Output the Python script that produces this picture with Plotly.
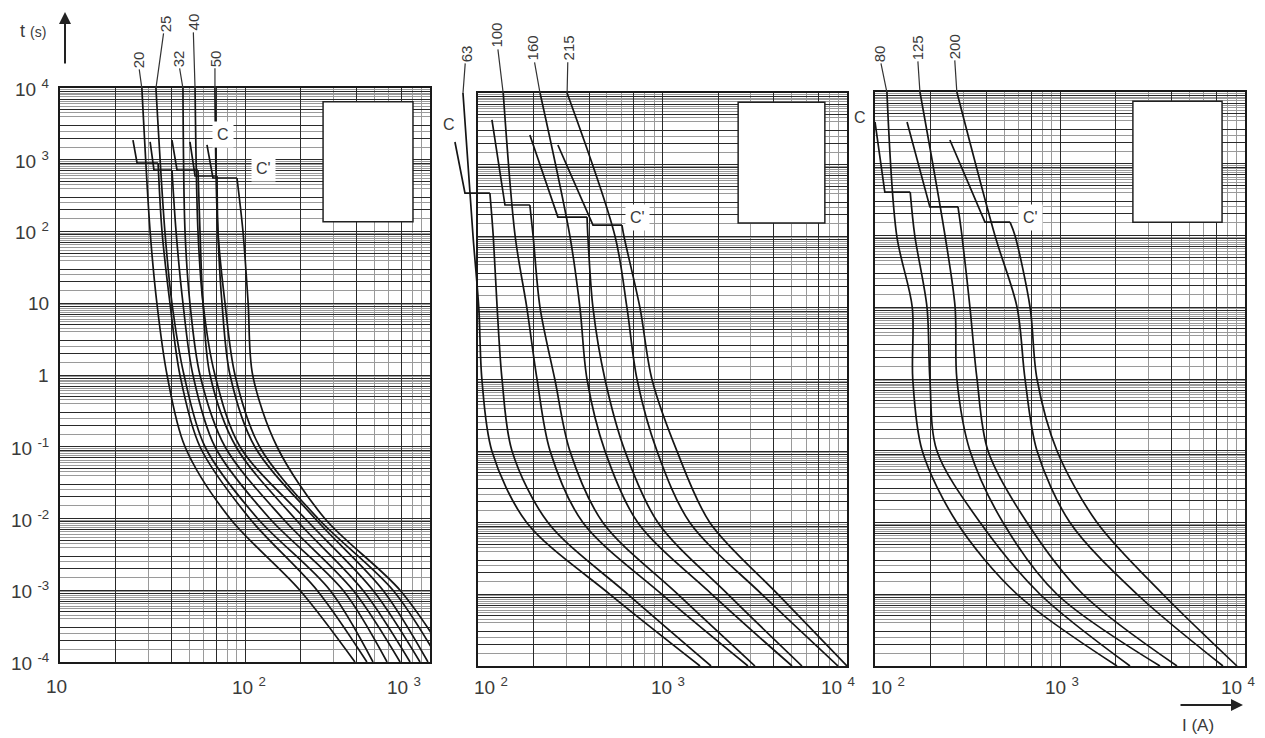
import math
import plotly.graph_objects as go

W, H = 1265, 738

# ---------------- data (current I in A, time t in s) ----------------
T_LEVELS = [100, 10, 1, 0.1, 0.01, 0.001, 0.0001]
T_TOP = 1e4

# Panel 1 : 20 .. 50 A
P1_RATINGS = ["20", "25", "32", "40", "50"]
P1_LEFT_TOP = [27.7, 33.0, 46.2, 53.7, 68.8]
P1_LEFT = [
    [30.7, 33.4, 37.9, 47.4, 83.0, 198, 393],
    [36.9, 40.3, 46.8, 60.8, 117, 288, 492],
    [47.4, 50.4, 57.1, 78.0, 160, 384, 689],
    [55.7, 59.3, 68.8, 94.0, 211, 492, 883],
    [71.4, 78.0, 88.3, 120, 248, 631, 1132],
]
P1_C_START_I = [24.8, 30.7, 40.3, 50.4, 62.3]
P1_C_START_T = [1880, 1770, 1880, 1770, 1610]
P1_C_END_I = [26.1, 32.2, 42.9, 53.7, 67.1]
P1_STEP_T = [900, 720, 720, 594, 557]
P1_STEP_END_I = [33.9, 40.3, 55.7, 70.6, 90.5]
P1_RIGHT = [
    [35.6, 39.3, 44.5, 57.1, 106, 245, 456],
    [42.4, 46.2, 52.3, 68.8, 136, 339, 586],
    [57.1, 59.3, 64.7, 89.4, 186, 434, 780],
    [71.4, 75.1, 83.0, 113, 239, 557, 975],
    [97.5, 104, 110, 149, 270, 689, 1283],
]

# Panel 2 : 63 .. 215 A
P2_RATINGS = ["63", "100", "160", "215"]
P2_LEFT_TOP = [82.9, 137, 217, 304]
P2_LEFT = [
    [94, 101, 105, 119, 184, 519, 1597],
    [159, 184, 209, 246, 371, 993, 2905],
    [315, 357, 390, 488, 736, 1853, 5035],
    [553, 642, 728, 934, 1409, 3460, 8940],
]
P2_C_START_I = [75.0, 119, 191, 271]
P2_C_START_T = [2070, 4200, 2590, 1880]
P2_C_END_I = [85.0, 140, 271, 420]
P2_STEP_T = [401, 273, 185, 143]
P2_STEP_END_I = [116, 191, 390, 603]
P2_RIGHT = [
    [121, 127, 135, 153, 240, 650, 1832],
    [199, 217, 261, 315, 476, 1213, 3170],
    [394, 420, 488, 626, 946, 2265, 5700],
    [618, 755, 877, 1198, 1808, 4227, 10000],
]

# Panel 3 : 80 .. 200 A
P3_RATINGS = ["80", "125", "200"]
P3_LEFT_TOP = [116, 175, 277]
P3_LEFT = [
    [131, 159, 160, 180, 277, 586, 2033],
    [239, 271, 277, 326, 492, 963, 3470],
    [445, 586, 647, 751, 1132, 2610, 7600],
]
P3_C_START_I = [100, 149, 254]
P3_C_START_T = [3820, 3820, 2140]
P3_C_END_I = [113, 198, 393]
P3_STEP_T = [403, 250, 154]
P3_STEP_END_I = [155, 281, 537]
P3_RIGHT = [
    [164, 191, 198, 216, 370, 780, 2390],
    [295, 326, 356, 408, 663, 1331, 4290],
    [571, 689, 751, 963, 1585, 3600, 9050],
]

# tick labels
Y_TICK_EXP = [-4, -3, -2, -1, 0, 1, 2, 3, 4]
Y_TICK_TEXT = ["10 <sup>-4</sup>", "10 <sup>-3</sup>", "10 <sup>-2</sup>", "10 <sup>-1</sup>",
               "1", "10", "10 <sup>2</sup>", "10 <sup>3</sup>", "10 <sup>4</sup>"]
X_TICK_TEXT = {1: "10", 2: "10 <sup>2</sup>", 3: "10 <sup>3</sup>", 4: "10 <sup>4</sup>"}

GRID_BLACK_X = [1, 2, 4, 7]
GRID_GREY_X = [3, 5, 6, 8, 9]
GRID_BLACK_Y = [1, 2, 3, 5, 7, 9]
GRID_GREY_Y = [1.5, 2.5, 4, 4.5, 5.5, 6, 6.5, 7.5, 8, 8.5, 9.5]

# ---------------- styling ----------------
FONT = "Liberation Sans, Arial, sans-serif"
TXT = "#3a3a3a"
CURVE = "#151515"
BLACK_GRID = "#2a2a2a"
GREY_GRID = "#9a9a9a"
LW = 1.7

# panel geometry (pixels of the 1265x738 page)
P1 = dict(l=60, r=430, t=88, b=662, lo=1, hi=3)
P2 = dict(l=478, r=847, t=93, b=666, lo=2, hi=4)
P3 = dict(l=875, r=1245, t=92, b=666, lo=2, hi=4)
P2_EXT_L = 450


def px_x(p):
    return p / W


def px_y(p):
    return 1 - p / H


def grid_vals(mults, lo, hi):
    out = []
    for e in range(lo, hi + 1):
        for m in mults:
            v = m * 10 ** e
            if 10 ** lo * 0.9999 <= v <= 10 ** hi * 1.0001:
                out.append(v)
    return out


def x_cfg(P, anchor):
    lo, hi = P["lo"], P["hi"]
    return dict(type="log", domain=[px_x(P["l"]), px_x(P["r"])], range=[lo, hi], anchor=anchor,
                tickmode="array", tickvals=grid_vals(GRID_BLACK_X, lo, hi), showticklabels=False,
                showgrid=True, gridcolor=BLACK_GRID, gridwidth=1,
                minor=dict(tickmode="array", tickvals=grid_vals(GRID_GREY_X, lo, hi),
                           showgrid=True, gridcolor=GREY_GRID, gridwidth=1, ticks=""),
                ticks="", showline=True, mirror=True, linecolor="#1a1a1a", linewidth=1.5,
                zeroline=False, fixedrange=True, automargin=False)


def y_cfg(P, anchor):
    return dict(type="log", domain=[px_y(P["b"]), px_y(P["t"])], range=[-4, 4], anchor=anchor,
                tickmode="array", tickvals=grid_vals(GRID_BLACK_Y, -4, 4), showticklabels=False,
                showgrid=True, gridcolor=BLACK_GRID, gridwidth=1,
                minor=dict(tickmode="array", tickvals=grid_vals(GRID_GREY_Y, -4, 4),
                           showgrid=True, gridcolor=GREY_GRID, gridwidth=1, ticks=""),
                ticks="", showline=True, mirror=True, linecolor="#1a1a1a", linewidth=1.5,
                zeroline=False, fixedrange=True, automargin=False)


fig = go.Figure()


def add_panel(xa, ya, ltop, left, cs_i, cs_t, ce_i, step_t, se_i, right):
    for k in range(len(ltop)):
        fig.add_trace(go.Scatter(
            x=[ltop[k]] + left[k], y=[T_TOP] + T_LEVELS, mode="lines",
            line=dict(color=CURVE, width=LW, shape="spline", smoothing=0.9),
            xaxis=xa, yaxis=ya, hoverinfo="skip", showlegend=False))
        fig.add_trace(go.Scatter(
            x=[cs_i[k], ce_i[k], se_i[k]], y=[cs_t[k], step_t[k], step_t[k]], mode="lines",
            line=dict(color=CURVE, width=LW),
            xaxis=xa, yaxis=ya, hoverinfo="skip", showlegend=False))
        fig.add_trace(go.Scatter(
            x=[se_i[k]] + right[k], y=[step_t[k]] + T_LEVELS, mode="lines",
            line=dict(color=CURVE, width=LW, shape="spline", smoothing=0.9),
            xaxis=xa, yaxis=ya, hoverinfo="skip", showlegend=False))


# invisible anchor trace so that subplot x2/y2 exists
fig.add_trace(go.Scatter(x=[100], y=[1], mode="markers", marker=dict(opacity=0),
                         xaxis="x2", yaxis="y2", hoverinfo="skip", showlegend=False))
add_panel("x", "y", P1_LEFT_TOP, P1_LEFT, P1_C_START_I, P1_C_START_T, P1_C_END_I,
          P1_STEP_T, P1_STEP_END_I, P1_RIGHT)
add_panel("x3", "y3", P3_LEFT_TOP, P3_LEFT, P3_C_START_I, P3_C_START_T, P3_C_END_I,
          P3_STEP_T, P3_STEP_END_I, P3_RIGHT)
add_panel("x4", "y4", P2_LEFT_TOP, P2_LEFT, P2_C_START_I, P2_C_START_T, P2_C_END_I,
          P2_STEP_T, P2_STEP_END_I, P2_RIGHT)

p2_dec = (P2["r"] - P2["l"]) / 2.0
fig.update_layout(
    template="none",
    width=W, height=H, margin=dict(l=0, r=0, t=0, b=0, pad=0), autosize=False,
    paper_bgcolor="white", plot_bgcolor="rgba(0,0,0,0)", showlegend=False,
    xaxis=x_cfg(P1, "y"), yaxis=y_cfg(P1, "x"),
    xaxis2=x_cfg(P2, "y2"), yaxis2=y_cfg(P2, "x2"),
    xaxis3=x_cfg(P3, "y3"), yaxis3=y_cfg(P3, "x3"),
    xaxis4=dict(type="log", domain=[px_x(P2_EXT_L), px_x(P2["r"])],
                range=[2 - (P2["l"] - P2_EXT_L) / p2_dec, 4], visible=False,
                anchor="y4", fixedrange=True, automargin=False),
    yaxis4=dict(type="log", domain=[px_y(P2["b"]), px_y(P2["t"])], range=[-4, 4],
                visible=False, anchor="x4", fixedrange=True, automargin=False),
)

# white boxes
shapes = []
for xr, yr, fx, fy in [("x", "y", (0.711, 0.954), (0.767, 0.976)),
                       ("x2", "y2", (0.705, 0.940), (0.773, 0.984)),
                       ("x3", "y3", (0.697, 0.938), (0.773, 0.984))]:
    shapes.append(dict(type="rect", xref=xr + " domain", yref=yr + " domain",
                       x0=fx[0], x1=fx[1], y0=fy[0], y1=fy[1],
                       fillcolor="white", line=dict(color="#222", width=1.5), layer="above"))
fig.update_layout(shapes=shapes)

ann = []
tick_font = dict(family=FONT, size=19, color=TXT)

# y tick labels (left of panel 1)
for e, txt in zip(Y_TICK_EXP, Y_TICK_TEXT):
    frac = (e + 4) / 8.0
    ypx = P1["b"] - frac * (P1["b"] - P1["t"])
    ann.append(dict(text=txt, x=px_x(51), y=px_y(ypx), xref="paper", yref="paper",
                    xanchor="right", yanchor="middle", showarrow=False, font=tick_font))

# x tick labels under each panel (labels at panel ends are pulled inwards)
for P, shifts in [(P1, {1: -3, 2: 4, 3: -26}), (P2, {2: 13, 3: 5, 4: -9}),
                  (P3, {2: 13, 3: 2, 4: -7})]:
    for e in range(P["lo"], P["hi"] + 1):
        frac = (e - P["lo"]) / float(P["hi"] - P["lo"])
        xpx = P["l"] + frac * (P["r"] - P["l"])
        ann.append(dict(text=X_TICK_TEXT[e], x=px_x(xpx), y=px_y(686), xref="paper", yref="paper",
                        xanchor="center", yanchor="middle", xshift=shifts[e],
                        showarrow=False, font=tick_font))

lab_font = dict(family=FONT, size=15, color=TXT)


def rating_labels(xref, yref, ratings, tops, offs):
    for r, v, (ax, ay) in zip(ratings, tops, offs):
        ann.append(dict(text=r, x=math.log10(v), y=3.995, xref=xref, yref=yref,
                        showarrow=True, arrowhead=0, arrowwidth=1.2, arrowcolor="#333",
                        ax=ax, ay=ay, textangle=-90, font=lab_font, standoff=0))


rating_labels("x", "y", P1_RATINGS, P1_LEFT_TOP, [(-4, -29), (9, -65), (-5, -30), (-2, -66), (0, -30)])
rating_labels("x4", "y4", P2_RATINGS, P2_LEFT_TOP, [(3, -40), (-7, -58), (-8, -45), (1, -45)])
rating_labels("x3", "y3", P3_RATINGS, P3_LEFT_TOP, [(-8, -39), (-3, -45), (-3, -46)])

cfont = dict(family=FONT, size=16, color=TXT)
for txt, px, py in [("C", 223, 134), ("C'", 263, 168), ("C", 449, 124), ("C'", 637, 218),
                    ("C", 860, 118), ("C'", 1030, 218)]:
    ann.append(dict(text=txt, x=px_x(px), y=px_y(py), xref="paper", yref="paper",
                    xanchor="center", yanchor="middle",
                    showarrow=False, font=cfont, bgcolor="white", borderpad=4))

# axis titles with arrows
ann.append(dict(text="t <span style='font-size:14px'>(s)</span>", x=px_x(33), y=px_y(31),
                xref="paper", yref="paper", xanchor="center", yanchor="middle", showarrow=False,
                font=dict(family=FONT, size=18, color=TXT)))
ann.append(dict(text="", x=px_x(65), y=px_y(12), xref="paper", yref="paper", showarrow=True,
                ax=0, ay=53, arrowhead=2, arrowsize=1.2, arrowwidth=2, arrowcolor="#222"))
ann.append(dict(text="I (A)", x=px_x(1198), y=px_y(725), xref="paper", yref="paper",
                xanchor="center", yanchor="middle",
                showarrow=False, font=dict(family=FONT, size=17, color=TXT)))
ann.append(dict(text="", x=px_x(1243), y=px_y(705), xref="paper", yref="paper", showarrow=True,
                ax=-64, ay=0, arrowhead=2, arrowsize=1.2, arrowwidth=2, arrowcolor="#222"))
fig.update_layout(annotations=ann)

fig.write_html("out.html", config={"displayModeBar": False},
               post_script="document.body.style.margin='0';document.body.style.overflow='hidden';")
